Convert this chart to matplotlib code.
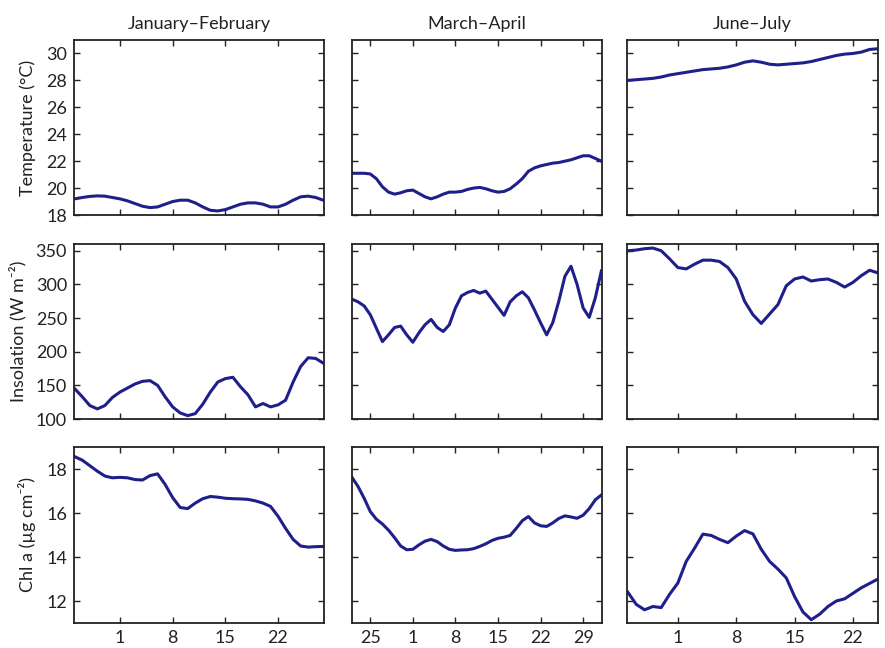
import numpy as np
import matplotlib
matplotlib.use("Agg")
import matplotlib.pyplot as plt

plt.rcParams['font.family'] = ['Lato', 'DejaVu Sans']

# ── day numbers (1 = first day of the second month in each window) ──────────
days_jf = np.arange(-5, 29)
days_ma = np.arange(-9, 33)
days_jj = np.arange(-5, 26)

# ── Temperature (°C) ─────────────────────────────────────────────────────────
temp_jf = [19.2, 19.3, 19.38, 19.42, 19.4, 19.3, 19.2, 19.05, 18.85, 18.65,
           18.55, 18.6, 18.8, 19.0, 19.1, 19.1, 18.9, 18.6, 18.35, 18.3,
           18.4, 18.6, 18.8, 18.9, 18.9, 18.8, 18.6, 18.6, 18.8, 19.1,
           19.35, 19.4, 19.3, 19.1]
temp_ma = [21.1, 21.1, 21.1, 21.05, 20.7, 20.1, 19.7, 19.55, 19.65, 19.8,
           19.85, 19.6, 19.35, 19.2, 19.35, 19.55, 19.7, 19.7, 19.75, 19.9,
           20.0, 20.05, 19.95, 19.8, 19.7, 19.75, 19.95, 20.3, 20.7, 21.25,
           21.5, 21.65, 21.75, 21.85, 21.9, 22.0, 22.1, 22.25, 22.4, 22.4,
           22.2, 22.0]
temp_jj = [28.0, 28.05, 28.1, 28.15, 28.25, 28.4, 28.5, 28.6, 28.7, 28.8,
           28.85, 28.9, 29.0, 29.15, 29.35, 29.45, 29.35, 29.2, 29.15, 29.2,
           29.25, 29.3, 29.4, 29.55, 29.7, 29.85, 29.95, 30.0, 30.1, 30.3,
           30.35]

# ── Insolation (W m-2) ───────────────────────────────────────────────────────
ins_jf = [145, 133, 120, 115, 120, 132, 140, 146, 152, 156,
          157, 150, 133, 118, 109, 105, 108, 122, 140, 155,
          160, 162, 148, 136, 118, 123, 118, 121, 128, 155,
          178, 191, 190, 183]
ins_ma = [278, 274, 268, 255, 235, 215, 225, 236, 238, 225,
          214, 228, 240, 248, 236, 230, 240, 265, 283, 288,
          291, 287, 290, 278, 266, 254, 274, 283, 289, 280,
          262, 243, 225, 243, 275, 312, 327, 300, 265, 251,
          280, 320]
ins_jj = [350, 351, 353, 354, 350, 338, 325, 323, 330, 336,
          336, 334, 325, 308, 275, 255, 242, 256, 270, 298,
          308, 311, 305, 307, 308, 303, 296, 303, 313, 321,
          317]

# ── Chl a (µg cm-2) ──────────────────────────────────────────────────────────
chl_jf = [18.56, 18.4, 18.15, 17.9, 17.68, 17.6, 17.62, 17.6, 17.52, 17.5,
          17.7, 17.78, 17.3, 16.7, 16.25, 16.2, 16.45, 16.65, 16.75, 16.72,
          16.67, 16.65, 16.64, 16.62, 16.55, 16.45, 16.3, 15.85, 15.3, 14.8,
          14.5, 14.45, 14.47, 14.48]
chl_ma = [17.62, 17.2, 16.67, 16.07, 15.72, 15.5, 15.22, 14.88, 14.5, 14.33,
          14.35, 14.55, 14.72, 14.8, 14.7, 14.5, 14.35, 14.3, 14.32, 14.33,
          14.38, 14.48, 14.6, 14.75, 14.85, 14.9, 14.98, 15.3, 15.65, 15.84,
          15.55, 15.42, 15.39, 15.55, 15.75, 15.87, 15.82, 15.76, 15.9, 16.2,
          16.6, 16.82]
chl_jj = [12.4, 11.85, 11.6, 11.75, 11.7, 12.3, 12.82, 13.8, 14.4, 15.04,
          14.98, 14.8, 14.65, 14.95, 15.2, 15.05, 14.35, 13.8, 13.45, 13.05,
          12.2, 11.5, 11.15, 11.4, 11.75, 12.0, 12.1, 12.35, 12.6, 12.8,
          13.0]

titles = ['January\u2013February', 'March\u2013April', 'June\u2013July']
ylabels = ['Temperature (\u00b0C)', 'Insolation (W m\u207b\u00b2)', 'Chl a (\u00b5g cm\u207b\u00b2)']

days = [days_jf, days_ma, days_jj]
series = [[temp_jf, temp_ma, temp_jj],
          [ins_jf, ins_ma, ins_jj],
          [chl_jf, chl_ma, chl_jj]]

xlims = [(-5.1, 28.1), (-9.0, 32.1), (-5.1, 25.0)]
xticks = [[1, 8, 15, 22], [-6, 1, 8, 15, 22, 29], [1, 8, 15, 22]]
xticklabels = [['1', '8', '15', '22'], ['25', '1', '8', '15', '22', '29'],
               ['1', '8', '15', '22']]

ylims = [(18, 31), (100, 360), (11, 19)]
yticks = [np.arange(18, 31, 2), np.arange(100, 351, 50), np.arange(12, 19, 2)]

line_color = '#1f1f8c'
ink = '#222222'

fig = plt.figure(figsize=(8.85, 6.48), dpi=100)

W, H = 885, 648
col_px = [(74, 250), (352, 250), (627, 251)]
row_px = [(40, 175), (244, 175), (447, 176)]

for r in range(3):
    for c in range(3):
        x0, w = col_px[c]
        y0, h = row_px[r]
        ax = fig.add_axes([x0 / W, 1 - (y0 + h) / H, w / W, h / H])
        ax.plot(days[c], series[r][c], color=line_color, linewidth=2.2,
                solid_joinstyle='round')
        ax.set_xlim(*xlims[c])
        ax.set_ylim(*ylims[r])
        ax.set_xticks(xticks[c])
        ax.set_yticks(yticks[r])
        ax.tick_params(direction='in', top=True, right=True, length=4,
                       width=1, labelsize=13, colors=ink, pad=5)
        for s in ax.spines.values():
            s.set_linewidth(1.3)
            s.set_color(ink)
        if r == 2:
            ax.set_xticklabels(xticklabels[c])
        else:
            ax.set_xticklabels([])
        if c == 0:
            ax.set_ylabel(ylabels[r], fontsize=13, color=ink, labelpad=7)
        else:
            ax.set_yticklabels([])
        if r == 0:
            ax.set_title(titles[c], fontsize=13, color=ink, pad=8)

fig.savefig('out.png', dpi=100)
